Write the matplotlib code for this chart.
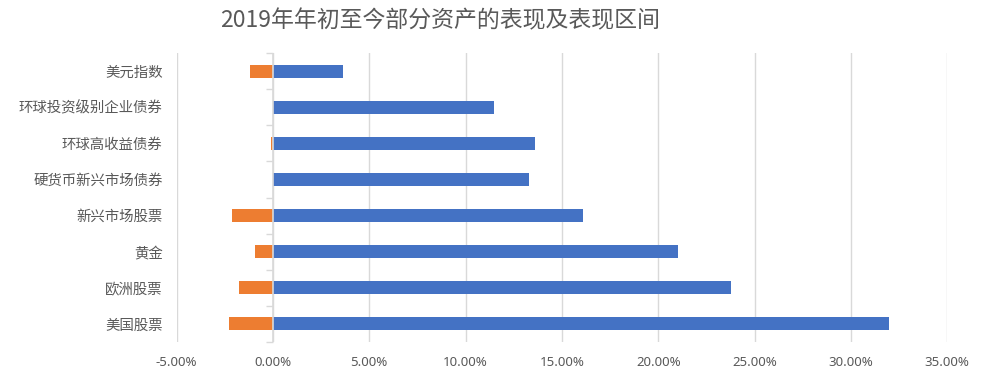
import matplotlib
matplotlib.use("Agg")
import matplotlib.pyplot as plt
import numpy as np
from matplotlib.ticker import FixedLocator, FuncFormatter

plt.rcParams['font.family'] = ['Noto Sans CJK SC', 'DejaVu Sans']

categories = ["美元指数", "环球投资级别企业债券", "环球高收益债券", "硬货币新兴市场债券",
              "新兴市场股票", "黄金", "欧洲股票", "美国股票"]
ytd_return = [3.65, 11.5, 13.6, 13.3, 16.1, 21.0, 23.8, 32.0]
min_return = [-1.21, 0.0, -0.1, 0.0, -2.1, -0.95, -1.77, -2.3]
x_ticks = [-5, 0, 5, 10, 15, 20, 25, 30, 35]
title = "2019年年初至今部分资产的表现及表现区间"

blue = "#4472C4"
orange = "#ED7D31"
grey_text = "#595959"
grid_c = "#D9D9D9"

fig = plt.figure(figsize=(9.82, 3.76), dpi=100)
ax = fig.add_axes([176.5/982, 1-342/376, (947.3-176.5)/982, (342-53)/376])

n = len(categories)
y = np.arange(n)
ax.barh(y, ytd_return, height=0.36, color=blue, zorder=3)
ax.barh(y, min_return, height=0.36, color=orange, zorder=3)

ax.set_xlim(-5, 35)
ax.set_ylim(n - 0.5, -0.5)
ax.xaxis.set_major_locator(FixedLocator(x_ticks))
ax.xaxis.set_major_formatter(FuncFormatter(lambda v, p: f"{v:.2f}%"))
ax.grid(axis='x', color=grid_c, linewidth=1, zorder=0)
ax.axvline(0, color=grid_c, linewidth=1.2, zorder=4)

for s in ax.spines.values():
    s.set_visible(False)

ax.set_yticks(y)
ax.set_yticklabels(categories)
ax.tick_params(axis='y', length=0, pad=10, labelsize=10.4, labelcolor=grey_text)
ax.tick_params(axis='x', length=0, pad=10, labelcolor=grey_text)
for lbl in ax.get_xticklabels():
    lbl.set_fontfamily(['Noto Sans', 'DejaVu Sans'])
    lbl.set_fontsize(9.5)

# category boundary ticks on the zero line
sec = ax.secondary_yaxis(5/40)
sec.spines['right'].set_visible(False)
sec.spines['left'].set_visible(False)
sec.yaxis.set_major_locator(FixedLocator(np.arange(-0.5, n, 1.0)))
sec.tick_params(axis='y', length=5, color=grid_c, width=1, labelleft=False)

fig.text(0.448, 0.945, title, ha='center', va='center', fontsize=16.5, color=grey_text)

fig.savefig("out.png", dpi=100)
